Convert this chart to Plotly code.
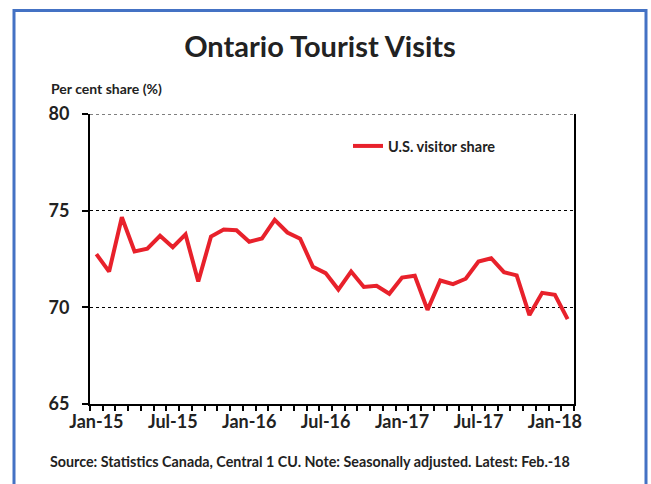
import plotly.graph_objects as go

months = ["Jan-15","Feb-15","Mar-15","Apr-15","May-15","Jun-15","Jul-15","Aug-15","Sep-15","Oct-15","Nov-15","Dec-15",
          "Jan-16","Feb-16","Mar-16","Apr-16","May-16","Jun-16","Jul-16","Aug-16","Sep-16","Oct-16","Nov-16","Dec-16",
          "Jan-17","Feb-17","Mar-17","Apr-17","May-17","Jun-17","Jul-17","Aug-17","Sep-17","Oct-17","Nov-17","Dec-17",
          "Jan-18","Feb-18"]
us_share = [72.75, 71.85, 74.66, 72.89, 73.03, 73.70, 73.11, 73.77, 71.34, 73.66, 74.02, 73.99,
            73.39, 73.56, 74.52, 73.87, 73.55, 72.10, 71.77, 70.92, 71.85, 71.05, 71.11, 70.70,
            71.54, 71.63, 69.87, 71.39, 71.20, 71.48, 72.37, 72.54, 71.82, 71.65, 69.60, 70.75,
            70.65, 69.39]
tick_labels = ["Jan-15", "Jul-15", "Jan-16", "Jul-16", "Jan-17", "Jul-17", "Jan-18"]
y_ticks = [65, 70, 75, 80]

idx = list(range(len(months)))
tick_idx = [months.index(t) for t in tick_labels]

FONT = "Lato"
TXT = "#222222"

fig = go.Figure()
fig.add_trace(go.Scatter(
    x=idx, y=us_share, mode="lines", name="U.S. visitor share",
    line=dict(color="#E8212B", width=4),
    customdata=months, hovertemplate="%{customdata}: %{y:.1f}%<extra></extra>",
))

fig.update_layout(
    width=651, height=484,
    margin=dict(l=90, r=77, t=114, b=80),
    paper_bgcolor="white", plot_bgcolor="white",
    font=dict(family=FONT, color=TXT),
    title=dict(text="Ontario Tourist Visits", x=(320-90)/484, xref="paper", xanchor="center",
               y=1 - 47/484, yanchor="middle",
               font=dict(family=FONT, size=29, weight="bold", color=TXT)),
    showlegend=True,
    legend=dict(x=(348-90)/484, y=1 - (146-114)/290, xanchor="left", yanchor="middle",
                bgcolor="rgba(0,0,0,0)",
                font=dict(family=FONT, size=14.5, weight="bold", color=TXT)),
    xaxis=dict(
        range=[-0.5, len(months) - 0.5], tickmode="array", tickvals=tick_idx, ticktext=tick_labels,
        ticks="", showgrid=False, zeroline=False,
        showline=True, linecolor="black", linewidth=2,
        tickfont=dict(family=FONT, size=18, weight="bold", color=TXT),
        minor=dict(tick0=-0.5, dtick=1, ticks="outside", ticklen=5, tickwidth=1.5, tickcolor="black", showgrid=False),
    ),
    yaxis=dict(
        range=[y_ticks[0], y_ticks[-1]], tickmode="array", tickvals=y_ticks,
        ticks="outside", ticklen=6, tickwidth=1.5, tickcolor="black", ticklabelstandoff=9,
        showgrid=True, gridcolor="black", griddash="dot", gridwidth=1,
        zeroline=False, showline=True, linecolor="black", linewidth=2, mirror=True,
        tickfont=dict(family=FONT, size=18, weight="bold", color=TXT),
    ),
    annotations=[
        dict(text="Per cent share (%)", xref="paper", yref="paper",
             x=(49-90)/484, y=(404-88)/290, xanchor="left", yanchor="middle", showarrow=False,
             font=dict(family=FONT, size=14, weight="bold", color=TXT)),
        dict(text="Source: Statistics Canada, Central 1 CU. Note: Seasonally adjusted. Latest: Feb.-18",
             xref="paper", yref="paper",
             x=(48-90)/484, y=(404-461)/290, xanchor="left", yanchor="middle", showarrow=False,
             font=dict(family=FONT, size=14.3, weight="bold", color=TXT)),
    ],
    shapes=[
        dict(type="rect", xref="paper", yref="paper",
             x0=(14-90)/484, x1=(646-90)/484, y0=(404-500)/290, y1=(404-10.5)/290,
             line=dict(color="#4472C4", width=3), fillcolor="rgba(0,0,0,0)", layer="below"),
        # dotted gridline along the top edge of the plot (max y tick)
        dict(type="line", xref="paper", yref="y", x0=0, x1=1, y0=y_ticks[-1], y1=y_ticks[-1],
             line=dict(color="black", width=1, dash="dot"), layer="above"),
    ],
)

fig.write_html("out.html")
